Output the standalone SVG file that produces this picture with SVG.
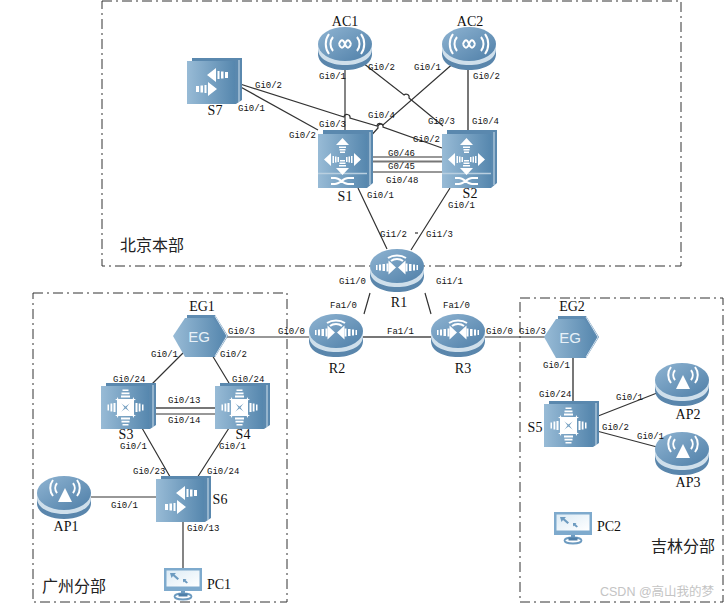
<svg xmlns="http://www.w3.org/2000/svg" xmlns:xlink="http://www.w3.org/1999/xlink" width="725" height="604" viewBox="0 0 725 604">
<style>
.l{font-family:"Liberation Mono","DejaVu Sans Mono",monospace;font-size:9px;fill:#111}
.n{font-family:"Liberation Serif","Noto Serif",serif;font-size:14px;fill:#111;text-anchor:middle}
.z{font-family:"Noto Sans CJK SC","Liberation Sans",sans-serif;font-size:16px;fill:#222}
.w{font-family:"Liberation Sans","Noto Sans CJK SC",sans-serif;font-size:12.5px;fill:#c4c4c4}
.box{fill:none;stroke:#333;stroke-width:1;stroke-dasharray:10 4 2 4}
.c{fill:none;stroke:#333;stroke-width:1.2}
.g{fill:none;stroke:#777;stroke-width:2}
.ic{fill:#fff}
.ics{fill:none;stroke:#fff;stroke-width:2}
.eg{font-family:"Liberation Sans",sans-serif;font-size:15px;fill:#e8f1f8;text-anchor:middle}
</style>
<defs>
<linearGradient id="grad" x1="0" y1="0" x2="1" y2="0"><stop offset="0" stop-color="#98bbd6"/><stop offset="1" stop-color="#5687ae"/></linearGradient>
<linearGradient id="gradTop" x1="0" y1="0" x2="1" y2="1"><stop offset="0" stop-color="#8fb4d2"/><stop offset="1" stop-color="#4f7fa8"/></linearGradient>
<linearGradient id="scr" x1="0" y1="0" x2="1" y2="1"><stop offset="0" stop-color="#dcebf5"/><stop offset="1" stop-color="#fff"/></linearGradient>
<g id="disc">
<path d="M0,17V27C0,37 12,43 27,43S54,37 54,27V17Z" fill="#5a86ac"/>
<path d="M0,17V22C0,32 12,38 27,38S54,32 54,22V17Z" fill="#cfdfeb"/>
<ellipse cx="27" cy="17" rx="27" ry="17" fill="url(#gradTop)"/>
</g>
<g id="stripeL"><path class="ic" d="M6,16h1.500v5H6ZM9,15.500h2v6H9ZM12.500,15h2.500v7h-2.500ZM16.500,14.500h2v8h-2Z"/><path class="ic" d="M18.500,11.500L26,18.500L18.500,25.500Z"/></g>
<g id="ac">
<use href="#disc"/>
<path class="ics" d="M21,17c2,-5 4,-5 6,0s4,5 6,0M21,17c2,5 4,5 6,0s4,-5 6,0" stroke-width="2"/>
<path class="ics" d="M15,10a11,11 0 0 0 0,14M39,10a11,11 0 0 1 0,14M11,7a17,17 0 0 0 0,20M43,7a17,17 0 0 1 0,20" stroke-width="1.500"/>
</g>
<g id="ap">
<use href="#disc"/>
<path class="ic" d="M28,12L35,26H21Z"/>
<path class="ics" d="M20,17a8,8 0 0 1 0,-10M36,17a8,8 0 0 0 0,-10M16,20a13,13 0 0 1 0,-16M40,20a13,13 0 0 0 0,-16" stroke-width="1.500"/>
</g>
<g id="router">
<use href="#disc"/>
<use href="#stripeL"/>
<use href="#stripeL" transform="matrix(-1 0 0 1 54 0)"/>
<path class="ics" d="M18,9a13,9 0 0 1 18,0M21,12a8,6 0 0 1 12,0" stroke-width="1.300"/>
</g>
<g id="eg">
<path d="M14,0H42L55,21L42,42H14Z" fill="#5f8cb2"/>
<path d="M42,1L54,21L42,41" fill="none" stroke="#d5e3ee" stroke-width="1"/>
<path d="M12,3H40L52,21L40,42H12L0,21Z" fill="url(#grad)"/>
<text class="eg" x="26" y="27">EG</text>
</g>
<g id="back"><path d="M5,0H55V42L49,46H5Z" fill="#5a88ae"/><path d="M52,2V44" stroke="#cfe0ec" stroke-width="1"/></g>
<g id="inArrow"><path class="ic" d="M21.500,6.500h6v1.500h-6ZM20.500,9.500h8v1.800h-8ZM20,12.500h9v2h-9ZM14,16h21L24.500,23.500Z"/></g>
<g id="outArrow"><path class="ic" d="M24.500,6L31,13H18ZM21,14.500h7v1.500h-7ZM21.500,17h6v1.500h-6ZM22,19.500h5v1.500h-5Z"/></g>
<g id="l3">
<use href="#back"/>
<rect x="0" y="3" width="48" height="43" fill="url(#grad)"/>
<use href="#inArrow"/>
<use href="#inArrow" transform="rotate(90 24.500 24.500)"/>
<use href="#inArrow" transform="rotate(180 24.500 24.500)"/>
<use href="#inArrow" transform="rotate(270 24.500 24.500)"/>
</g>
<g id="l2">
<use href="#back"/>
<rect x="0" y="3" width="48" height="43" fill="url(#grad)"/>
<path class="ic" d="M20,17L29,10V24ZM30.500,13h2v8h-2ZM34,13.500h2.500v7H34ZM38,14h3v6h-3Z"/>
<path class="ic" d="M30,31L21,24V38ZM19.500,27h-2v8h2ZM16,27.500h-2.500v7H16ZM12,28H9v6h3Z"/>
</g>
<g id="core">
<path d="M5,0H55V53L49,58H5Z" fill="#5a88ae"/><path d="M52,2V55" stroke="#cfe0ec" stroke-width="1"/>
<rect x="0" y="4" width="49" height="54" fill="url(#grad)"/>
<path d="M0,43.500H49" stroke="#b9cfe0" stroke-width="1.500"/>
<g transform="translate(0,-1)">
<use href="#outArrow" y="3"/>
<use href="#outArrow" y="3" transform="rotate(90 24.500 27.500) translate(3 0)"/>
<use href="#outArrow" y="3" transform="rotate(180 24.500 27.500)"/>
<use href="#outArrow" y="3" transform="rotate(270 24.500 27.500) translate(-3 0)"/>
</g>
<path class="ics" d="M13,48h4c5,0 8,6 13,6h6M13,54h4c5,0 8,-6 13,-6h6" stroke-width="1.200"/>
</g>
<g id="pc">
<rect x="0" y="0" width="38" height="23" fill="#7eaacd"/>
<rect x="2.500" y="2.500" width="33" height="16" fill="url(#scr)"/>
<path d="M6,5h6l-1.500,1.500L15,10.500L13.500,12L9,8L7.500,10ZM19,11h3.500l-1,1L24,14.500L22.500,15.500L20,13.500L19,14.500Z" fill="#6d9bc0"/>
<rect x="17" y="23" width="4" height="3" fill="#6d9bc0"/>
<ellipse cx="19" cy="28.500" rx="8.500" ry="3" fill="none" stroke="#6d9bc0" stroke-width="1.800"/>
<rect x="14.500" y="25.500" width="9" height="3" fill="#4f7fa8"/>
</g>
</defs>
<rect width="725" height="604" fill="#fff"/>
<g id="regions">
<rect class="box" x="102" y="1" width="579" height="265"/>
<rect class="box" x="33" y="293" width="254" height="309"/>
<rect class="box" x="520" y="298" width="203" height="304"/>
<text class="z" x="120" y="251">北京本部</text>
<text class="z" x="42" y="592">广州分部</text>
<text class="z" x="651" y="552">吉林分部</text>
</g>
<g id="connectors">
<path class="c" d="M345,60V135"/>
<path class="g" d="M468,65V135"/>
<path class="c" d="M363,63L404,95a3,3 0 0 1 5,3L443,126"/>
<path class="c" d="M456,61L383,125a3,3 0 0 0 -5,3L367,140"/>
<path class="c" d="M237,83L344,117a3,3 0 0 1 6,1L377,126a3,3 0 0 1 6,1L442,148"/>
<path class="c" d="M237,85L318,130"/>
<path class="c" d="M370,157H442M370,172H442"/>
<path class="g" d="M370,161.500H442"/>
<path class="c" d="M358,188L387,249M450,188L411,250"/>
<path class="c" d="M415,233H418" stroke="#999"/>
<path class="c" d="M370,293L364,314M425,293L431,314"/>
<path class="g" d="M363,337H431"/>
<path class="c" d="M485,337H545M227,337H309" stroke-width="1.500"/>
<path class="c" d="M183,353L152,384M212,355L232,388"/>
<path class="g" d="M153,408H215"/>
<path class="c" d="M153,414H215"/>
<path class="c" d="M142,428L173,482M229,428L197,478"/>
<path class="c" d="M91,497H156"/>
<path class="c" d="M183,521V568"/>
<path class="g" d="M573,358V405"/>
<path class="c" d="M593,418L657,393M593,430L657,447"/>
</g>
<g id="AC1"><use href="#ac" x="318" y="27"/><text class="n" x="345" y="26">AC1</text></g>
<g id="AC2"><use href="#ac" x="442" y="27"/><text class="n" x="470" y="26">AC2</text></g>
<g id="S7"><use href="#l2" x="187" y="58"/><text class="n" x="215" y="115">S7</text></g>
<g id="S1"><use href="#core" x="318" y="130"/><text class="n" x="345" y="201">S1</text></g>
<g id="S2"><use href="#core" x="442" y="130"/><text class="n" x="470" y="198">S2</text></g>
<g id="R1"><use href="#router" x="370" y="249"/><text class="n" x="399" y="307">R1</text></g>
<g id="R2"><use href="#router" x="309" y="314"/><text class="n" x="337" y="373">R2</text></g>
<g id="R3"><use href="#router" x="431" y="314"/><text class="n" x="463" y="373">R3</text></g>
<g id="EG1"><use href="#eg" x="173" y="315"/><text class="n" x="202" y="311">EG1</text></g>
<g id="EG2"><use href="#eg" x="544" y="316"/><text class="n" x="572" y="311">EG2</text></g>
<g id="S3"><use href="#l3" x="101" y="383"/><text class="n" x="126" y="439">S3</text></g>
<g id="S4"><use href="#l3" x="215" y="383"/><text class="n" x="243" y="439">S4</text></g>
<g id="S5"><use href="#l3" x="544" y="401"/><text class="n" x="535" y="432">S5</text></g>
<g id="S6"><use href="#l2" x="156" y="476"/><text class="n" x="220" y="504">S6</text></g>
<g id="AP1"><use href="#ap" x="37" y="476"/><text class="n" x="66" y="531">AP1</text></g>
<g id="AP2"><use href="#ap" x="655" y="363"/><text class="n" x="688" y="419">AP2</text></g>
<g id="AP3"><use href="#ap" x="655" y="432"/><text class="n" x="688" y="487">AP3</text></g>
<g id="PC1"><use href="#pc" x="164" y="568"/><text class="n" x="219" y="589">PC1</text></g>
<g id="PC2"><use href="#pc" x="554" y="512"/><text class="n" x="609" y="531">PC2</text></g>
<g id="labels">
<text class="l" x="319" y="79">Gi0/1</text>
<text class="l" x="368" y="70">Gi0/2</text>
<text class="l" x="414" y="70">Gi0/1</text>
<text class="l" x="473" y="79">Gi0/2</text>
<text class="l" x="255" y="88">Gi0/2</text>
<text class="l" x="238" y="111">Gi0/1</text>
<text class="l" x="368" y="118">Gi0/4</text>
<text class="l" x="319" y="127">Gi0/3</text>
<text class="l" x="289" y="138">Gi0/2</text>
<text class="l" x="428" y="124">Gi0/3</text>
<text class="l" x="472" y="124">Gi0/4</text>
<text class="l" x="413" y="142">Gi0/2</text>
<text class="l" x="388" y="156">G0/46</text>
<text class="l" x="388" y="169">G0/45</text>
<text class="l" x="386" y="183">Gi0/48</text>
<text class="l" x="367" y="198">Gi0/1</text>
<text class="l" x="448" y="208">Gi0/1</text>
<text class="l" x="380" y="237">Gi1/2</text>
<text class="l" x="426" y="237">Gi1/3</text>
<text class="l" x="339" y="284">Gi1/0</text>
<text class="l" x="436" y="284">Gi1/1</text>
<text class="l" x="330" y="308">Fa1/0</text>
<text class="l" x="443" y="308">Fa1/0</text>
<text class="l" x="387" y="334">Fa1/1</text>
<text class="l" x="278" y="334">Gi0/0</text>
<text class="l" x="486" y="334">Gi0/0</text>
<text class="l" x="519" y="334">Gi0/3</text>
<text class="l" x="543" y="368">Gi0/1</text>
<text class="l" x="228" y="334">Gi0/3</text>
<text class="l" x="151" y="357">Gi0/1</text>
<text class="l" x="220" y="357">Gi0/2</text>
<text class="l" x="113" y="382">Gi0/24</text>
<text class="l" x="232" y="382">Gi0/24</text>
<text class="l" x="168" y="403">Gi0/13</text>
<text class="l" x="168" y="423">Gi0/14</text>
<text class="l" x="120" y="449">Gi0/1</text>
<text class="l" x="219" y="449">Gi0/1</text>
<text class="l" x="133" y="474">Gi0/23</text>
<text class="l" x="207" y="474">Gi0/24</text>
<text class="l" x="111" y="508">Gi0/1</text>
<text class="l" x="187" y="531">Gi0/13</text>
<text class="l" x="539" y="397">Gi0/24</text>
<text class="l" x="616" y="400">Gi0/1</text>
<text class="l" x="602" y="430">Gi0/2</text>
<text class="l" x="637" y="439">Gi0/1</text>
</g>
<text class="w" x="600" y="596">CSDN @高山我的梦</text>
</svg>
